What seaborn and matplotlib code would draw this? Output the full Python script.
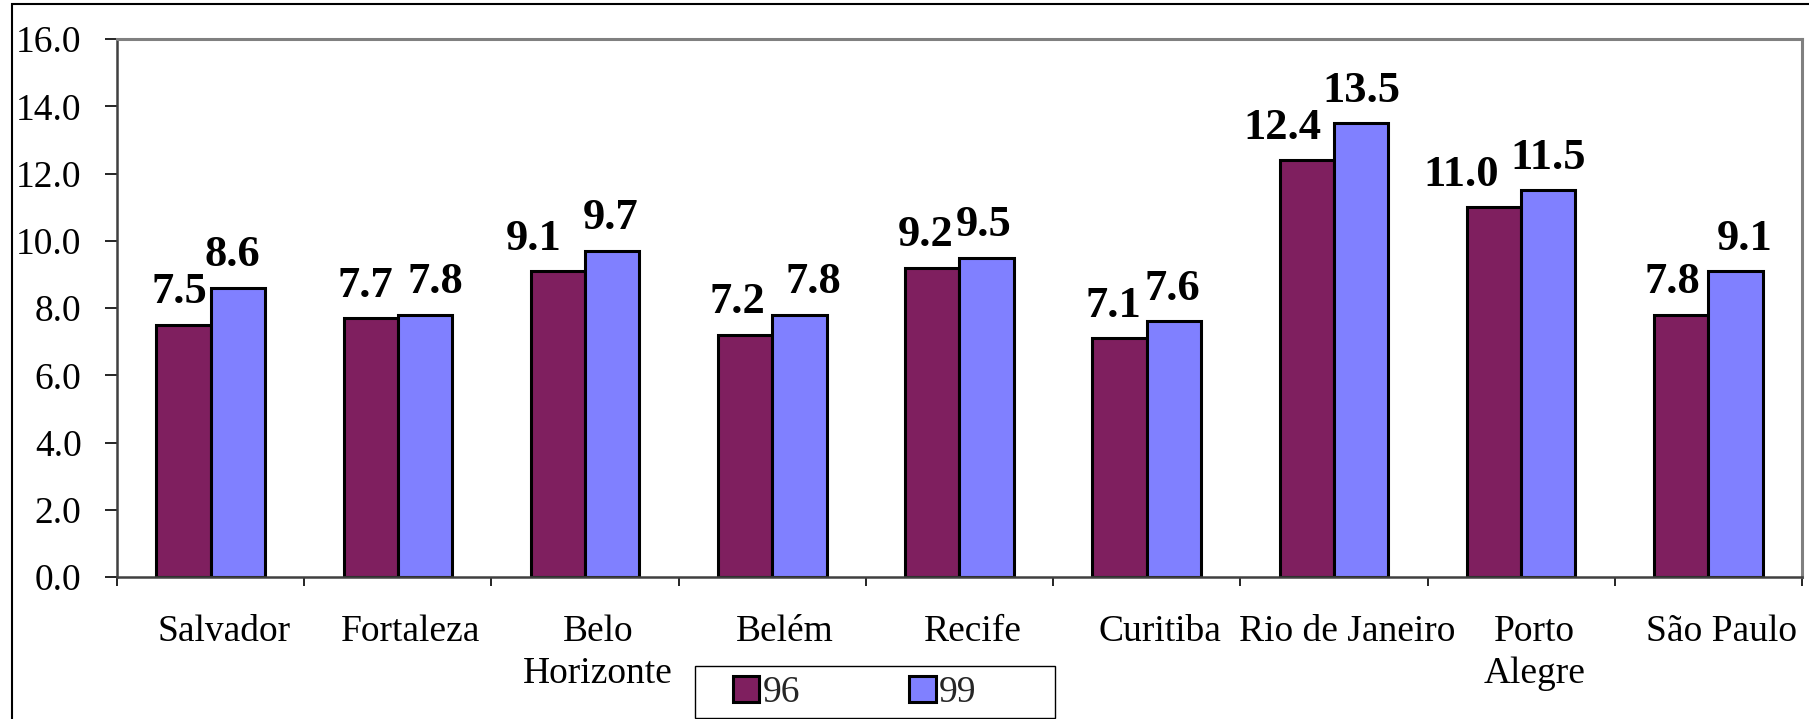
import matplotlib
matplotlib.use("Agg")
import matplotlib.pyplot as plt
import matplotlib.transforms as mtransforms
import seaborn as sns
import pandas as pd
import numpy as np
from matplotlib.patches import Patch, Rectangle
from matplotlib.ticker import FixedLocator, FormatStrFormatter

cities = ["Salvador", "Fortaleza", "Belo\nHorizonte", "Belém", "Recife",
          "Curitiba", "Rio de Janeiro", "Porto\nAlegre", "São Paulo"]
values_96 = [7.5, 7.7, 9.1, 7.2, 9.2, 7.1, 12.4, 11.0, 7.8]
values_99 = [8.6, 7.8, 9.7, 7.8, 9.5, 7.6, 13.5, 11.5, 9.1]
series = ["96", "99"]
colors = ["#7F1F5F", "#8080FF"]
yticks = [0, 2, 4, 6, 8, 10, 12, 14, 16]

# label layout nudges (pixels), mimicking the original chart's label placement
label_dx = [[-4, -5, -24, -8, -7, -6, -24, -33, -9],
            [-5, 10, -2, 14, -3, -2, 0, 0, 9]]

df = pd.DataFrame({
    "city": cities * 2,
    "value": values_96 + values_99,
    "year": [series[0]] * len(cities) + [series[1]] * len(cities),
})

sns.set_theme(style="white")
plt.rcParams["font.family"] = ["Liberation Serif", "DejaVu Serif"]

W, H = 1809, 719
PX = 72 / 100  # points per pixel
fig = plt.figure(figsize=(W / 100, H / 100), dpi=100)
ax = fig.add_axes([117 / W, 1 - 577 / H, (1802 - 117) / W, (577 - 39) / H])

sns.barplot(data=df, x="city", y="value", hue="year", order=cities,
            hue_order=series, palette=colors, width=0.58, saturation=1,
            edgecolor="black", linewidth=2.2, legend=False, ax=ax,
            errorbar=None)

for si, cont in enumerate(ax.containers):
    for bi, bar in enumerate(cont.patches):
        xc = bar.get_x() + bar.get_width() / 2
        top = bar.get_height()
        ax.annotate(f"{top:.1f}", xy=(xc, top),
                    xytext=(label_dx[si][bi] * PX, 9),
                    textcoords="offset points", ha="center", va="bottom",
                    fontsize=32, fontweight="bold", color="black")

ax.set_ylim(0, 16)
ax.set_xlim(-0.5, len(cities) - 0.5)
ax.yaxis.set_major_locator(FixedLocator(yticks))
ax.yaxis.set_major_formatter(FormatStrFormatter("%.1f"))
ax.set_xlabel("")
ax.set_ylabel("")

ax.tick_params(axis="y", which="major", direction="out", length=8.5, width=1.2,
               color="black", labelsize=27, pad=17, left=True, labelcolor="black")
ax.tick_params(axis="x", which="major", length=0, labelsize=27, pad=27,
               labelcolor="black")
ax.set_xticks(np.arange(-0.5, len(cities), 1.0), minor=True)
ax.tick_params(axis="x", which="minor", direction="out", length=6.5, width=1.2,
               color="black", bottom=True)
shift = mtransforms.ScaledTranslation(13 / 100, 0, fig.dpi_scale_trans)
for lab in ax.get_xticklabels():
    lab.set_linespacing(1.3)
    lab.set_verticalalignment("top")
    lab.set_transform(lab.get_transform() + shift)

for side in ["top", "right"]:
    ax.spines[side].set_visible(True)
    ax.spines[side].set_color("#808080")
    ax.spines[side].set_linewidth(2.2)
for side in ["left", "bottom"]:
    ax.spines[side].set_visible(True)
    ax.spines[side].set_color("#404040")
    ax.spines[side].set_linewidth(1.8)
ax.grid(False)

handles = [Patch(facecolor=c, edgecolor="black", linewidth=2.2, label=s)
           for c, s in zip(colors, series)]
leg = fig.legend(handles=handles, loc="center left", ncol=2,
                 bbox_to_anchor=(733 / W, 1 - 693 / H),
                 bbox_transform=fig.transFigure, fontsize=27, frameon=False,
                 handlelength=0.7, handleheight=0.7, handletextpad=0.1,
                 columnspacing=2.9, borderpad=0, borderaxespad=0)

# legend frame
fig.patches.append(Rectangle((695 / W, 1 - 718 / H), 360 / W, 52 / H,
                             transform=fig.transFigure, fill=False,
                             edgecolor="black", linewidth=1.0, zorder=5))
# outer chart frame (partly cropped like the original)
fig.patches.append(Rectangle((12 / W, -0.2), 1.2, 1.2 - 4 / H,
                             transform=fig.transFigure, fill=False,
                             edgecolor="black", linewidth=1.5))

fig.savefig("out.png", dpi=100)
